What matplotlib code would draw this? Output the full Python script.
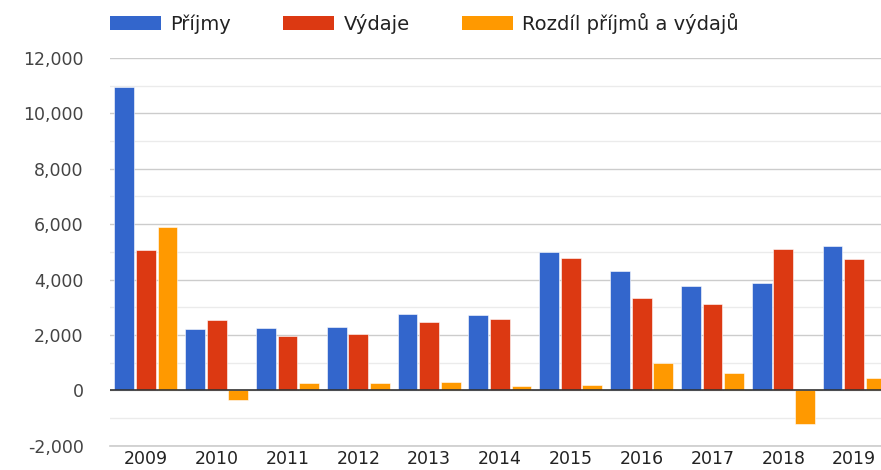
import numpy as np
import matplotlib.pyplot as plt
from matplotlib.patches import Patch
from matplotlib.ticker import MultipleLocator, FuncFormatter

# Data
years = ['2009', '2010', '2011', '2012', '2013', '2014', '2015', '2016', '2017', '2018', '2019']
prijmy = np.array([10960, 2200, 2250, 2280, 2770, 2735, 5000, 4325, 3760, 3880, 5205])
vydaje = np.array([5050, 2550, 1975, 2025, 2470, 2590, 4785, 3350, 3110, 5085, 4745])
rozdil = np.array([5900, -340, 265, 250, 290, 140, 190, 970, 630, -1200, 440])

labels = ['Příjmy', 'Výdaje', 'Rozdíl příjmů a výdajů']
colors = ['#3366cc', '#dc3912', '#ff9900']

plt.rcParams['font.family'] = ['DejaVu Sans']

fig = plt.figure(figsize=(8.81, 4.70), dpi=100)
ax = fig.add_axes([110 / 881, 1 - 445.7 / 470, 1 - 110 / 881, (445.7 - 58) / 470])

x = np.arange(len(years))
step = 0.305
width = 0.28
for i, (vals, col) in enumerate(zip([prijmy, vydaje, rozdil], colors)):
    ax.bar(x + (i - 1) * step, vals, width, color=col, edgecolor='white',
           linewidth=0.4, zorder=3)

ax.set_xlim(-0.506, 10.38)
ax.set_ylim(-2000, 12000)
ax.yaxis.set_major_locator(MultipleLocator(2000))
ax.yaxis.set_minor_locator(MultipleLocator(1000))
ax.yaxis.set_major_formatter(FuncFormatter(lambda v, p: f'{int(v):,}'))
ax.grid(axis='y', which='major', color='#cccccc', linewidth=1, zorder=0)
ax.grid(axis='y', which='minor', color='#ebebeb', linewidth=1, zorder=0)
ax.axhline(-2000, color='#cccccc', linewidth=1.2, zorder=1, clip_on=False)
ax.axhline(0, color='#333333', linewidth=1.2, zorder=4)

for s in ax.spines.values():
    s.set_visible(False)
ax.tick_params(axis='both', which='both', length=0)
ax.tick_params(axis='y', pad=19, labelsize=12.5, labelcolor='#444444')
ax.tick_params(axis='x', pad=3, labelsize=12.5, labelcolor='#222222')
ax.set_xticks(x)
ax.set_xticklabels(years)

handles = [Patch(facecolor=c, edgecolor='none') for c in colors]
fig.legend(handles, labels, ncol=3, loc='center left',
           bbox_to_anchor=(110 / 881, 1 - 23 / 470), frameon=False,
           fontsize=14, handlelength=2.63, handleheight=0.72,
           handletextpad=0.46, columnspacing=2.7, labelcolor='#222222',
           borderaxespad=0, borderpad=0)

fig.savefig('out.png', dpi=100)
